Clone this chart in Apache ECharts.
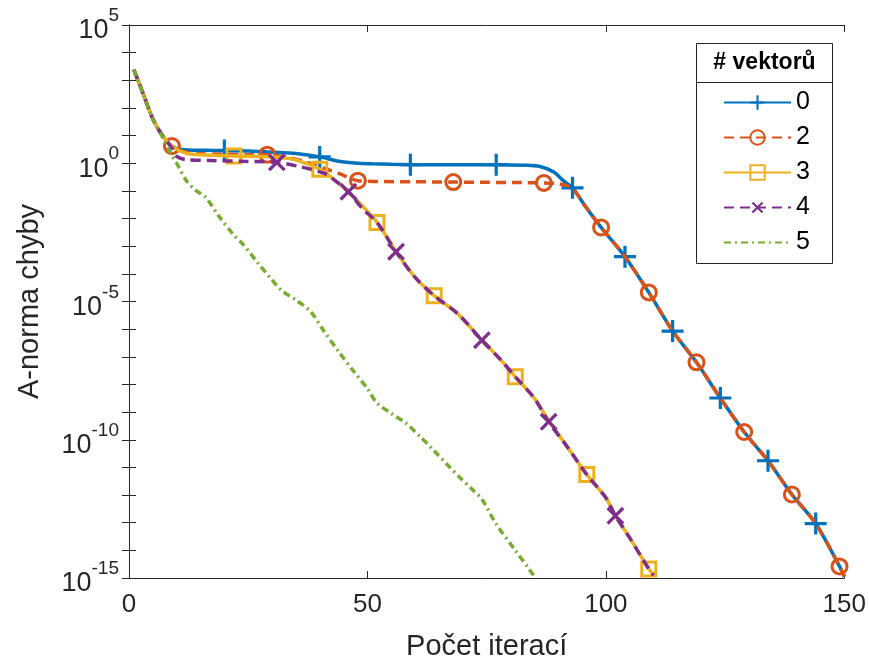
<!DOCTYPE html>
<html>
<head>
<meta charset="utf-8">
<script src="https://cdn.jsdelivr.net/npm/echarts@6/dist/echarts.min.js"></script>
<style>
html,body{margin:0;padding:0;background:#fff;}
#chart{width:869px;height:666px;}
</style>
</head>
<body>
<div id="chart"></div>
<script>
// ---- data (x = iteration, values = log10 of the A-norm of the error) ----
const seriesNames = ['0', '2', '3', '4', '5'];
const xTicks = [0, 50, 100, 150];

const x0 = [1,3,5,7,9,11,16,20,25,30,35,40,44,48,51,55,59,65,70,77,83,86,89,91,93,96,99,104,109,114,119,124,129,134,139,144,149,150];
const log0 = [3.39,2.5,1.6,1.0,0.62,0.5,0.47,0.46,0.44,0.40,0.35,0.23,0.07,0.0,-0.02,-0.04,-0.05,-0.05,-0.05,-0.05,-0.07,-0.11,-0.31,-0.62,-0.89,-1.63,-2.32,-3.38,-4.67,-6.07,-7.2,-8.49,-9.72,-10.76,-11.98,-13.03,-14.58,-14.95];
const mark0 = [20,40,59,77,93,104,114,124,134,144];

const x2 = [1,3,5,7,9,12,15,20,25,29,33,37,41,44,48,52,60,68,75,82,87,90,92,93,96,99,104,109,114,119,124,129,134,139,144,149,150];
const log2 = [3.39,2.5,1.6,1.0,0.62,0.40,0.34,0.32,0.31,0.31,0.22,0.05,-0.19,-0.37,-0.63,-0.66,-0.67,-0.68,-0.69,-0.70,-0.71,-0.74,-0.82,-0.89,-1.63,-2.32,-3.38,-4.67,-6.07,-7.2,-8.49,-9.72,-10.76,-11.98,-13.03,-14.58,-14.95];
const mark2 = [9,29,48,68,87,99,109,119,129,139,149];

const x3 = [1,3,5,7,9,12,16,22,30,34,37,40,44,47,52,56,60,64,69,74,78,81,85,88,92,96,100,102,105,109,110];
const log3 = [3.39,2.5,1.6,1.0,0.62,0.36,0.30,0.26,0.23,0.16,0.0,-0.22,-0.73,-1.2,-2.14,-3.2,-4.13,-4.79,-5.45,-6.4,-7.12,-7.72,-8.5,-9.3,-10.28,-11.26,-12.1,-12.75,-13.55,-14.67,-14.9];
const mark3 = [22,40,52,64,81,96,109];

const x4 = [1,3,5,7,9,10,12,17,24,31,36,41,43,46,49,52,56,60,64,69,74,78,81,85,88,92,96,100,102,105,109,110];
const log4 = [3.39,2.5,1.6,1.0,0.55,0.25,0.13,0.10,0.07,0.03,-0.13,-0.37,-0.6,-1.03,-1.65,-2.14,-3.2,-4.13,-4.79,-5.45,-6.4,-7.12,-7.72,-8.5,-9.35,-10.28,-11.26,-12.1,-12.75,-13.55,-14.67,-14.9];
const mark4 = [31,46,56,74,88,102];

const x5 = [1,3,5,7,9,10,12,14,16,19,22,24,27,30,32,35,38,41,44,47,50,52,55,58,61,64,67,69,72,74,77,81,84,85];
const log5 = [3.39,2.5,1.6,0.95,0.28,0.0,-0.62,-0.98,-1.22,-1.95,-2.6,-2.95,-3.6,-4.22,-4.6,-4.95,-5.35,-6.1,-6.82,-7.5,-8.15,-8.67,-9.05,-9.39,-9.88,-10.4,-10.95,-11.3,-11.8,-12.15,-13.05,-14.0,-14.7,-14.95];
const mark5 = [];

// ---- styling ----
const colors = ['#0072BD', '#D95319', '#EDB120', '#7E2F8E', '#77AC30'];
const axisColor = '#262626';
const FONT = '"Liberation Sans", Arial, Helvetica, sans-serif';
const plusPath = 'path://M-1.6,-11L1.6,-11L1.6,-1.6L11,-1.6L11,1.6L1.6,1.6L1.6,11L-1.6,11L-1.6,1.6L-11,1.6L-11,-1.6L-1.6,-1.6Z';
const crossPath = 'path://M-1.8,-12L1.8,-12L1.8,-1.8L12,-1.8L12,1.8L1.8,1.8L1.8,12L-1.8,12L-1.8,1.8L-12,1.8L-12,-1.8L-1.8,-1.8Z';

function build(xs, logs, marks) {
  return xs.map((x, i) => {
    const item = { value: [x, Math.pow(10, logs[i])] };
    if (marks.indexOf(x) < 0) item.symbol = 'none';
    return item;
  });
}

const chart = echarts.init(document.getElementById('chart'), null, { renderer: 'canvas' });

const yAxisBase = {
  type: 'log',
  logBase: 10,
  min: 1e-15,
  max: 1e5,
  interval: 1,
  axisLine: { show: true, lineStyle: { color: axisColor, width: 1 } },
  axisTick: { show: true, inside: true, length: 7, lineStyle: { color: axisColor } },
  splitLine: { show: false },
  minorTick: { show: false }
};
const xAxisBase = {
  type: 'value',
  min: 0,
  max: 150,
  interval: 50,
  axisLine: { show: true, onZero: false, lineStyle: { color: axisColor, width: 1 } },
  axisTick: { show: true, inside: true, length: 7, lineStyle: { color: axisColor } },
  splitLine: { show: false }
};

const option = {
  animation: false,
  backgroundColor: '#fff',
  textStyle: { fontFamily: FONT },
  grid: { left: 129, right: 21, top: 25, bottom: 83, containLabel: false },
  xAxis: [
    Object.assign({}, xAxisBase, {
      position: 'bottom',
      name: 'Počet iterací',
      nameLocation: 'middle',
      nameGap: 54,
      nameTextStyle: { fontSize: 29, color: axisColor, fontFamily: FONT },
      axisLabel: { show: true, margin: 14, fontSize: 26, color: axisColor, fontFamily: FONT,
        formatter: v => (xTicks.indexOf(v) >= 0 ? String(v) : '') }
    }),
    Object.assign({}, xAxisBase, { position: 'top', axisLabel: { show: false } })
  ],
  yAxis: [
    Object.assign({}, yAxisBase, {
      position: 'left',
      name: 'A-norma chyby',
      nameLocation: 'middle',
      nameGap: 85,
      nameTextStyle: { fontSize: 29, color: axisColor, fontFamily: FONT },
      axisLabel: {
        show: true, margin: 10, color: axisColor, fontFamily: FONT,
        padding: [12, 0, 0, 0],
        formatter: function (v) {
          const e = Math.round(Math.log10(v));
          if (e % 5 !== 0) return '';
          return '{b|10}{s|' + e + '}';
        },
        rich: {
          b: { fontSize: 27, fontFamily: FONT, color: axisColor },
          s: { fontSize: 19, fontFamily: FONT, color: axisColor, padding: [0, 0, 30, 0] }
        }
      }
    }),
    Object.assign({}, yAxisBase, { position: 'right', axisLabel: { show: false } })
  ],
  legend: {
    show: true,
    orient: 'vertical',
    left: 723,
    top: 90,
    padding: 0,
    itemWidth: 67,
    itemHeight: 18,
    itemGap: 10,
    textStyle: { fontSize: 25, color: '#000', fontFamily: FONT },
    data: seriesNames
  },
  graphic: [
    { type: 'rect', shape: { x: 696.5, y: 43.5, width: 136, height: 220 },
      style: { fill: '#fff', stroke: axisColor, lineWidth: 1 }, z: -1, silent: true },
    { type: 'line', shape: { x1: 696.5, y1: 82.5, x2: 832.5, y2: 82.5 },
      style: { stroke: axisColor, lineWidth: 1 }, silent: true },
    { type: 'text', x: 764.5, y: 63, style: { text: '# vektorů', fontSize: 23, fontWeight: 'bold',
      fontFamily: FONT, fill: '#000', align: 'center', verticalAlign: 'middle' }, silent: true }
  ],
  series: [
    {
      name: seriesNames[0], type: 'line', data: build(x0, log0, mark0),
      smooth: 0.3, symbol: plusPath, symbolSize: 22,
      lineStyle: { color: colors[0], width: 3.5, type: 'solid' },
      itemStyle: { color: colors[0], borderWidth: 0 },
      z: 2
    },
    {
      name: seriesNames[1], type: 'line', data: build(x2, log2, mark2),
      smooth: 0.3, symbol: 'circle', symbolSize: 15,
      lineStyle: { color: colors[1], width: 3.5, type: [10, 6] },
      itemStyle: { color: 'rgba(0,0,0,0)', borderColor: colors[1], borderWidth: 3 },
      z: 3
    },
    {
      name: seriesNames[2], type: 'line', data: build(x3, log3, mark3),
      smooth: 0.3, symbol: 'rect', symbolSize: 14,
      lineStyle: { color: colors[2], width: 3.5, type: 'solid' },
      itemStyle: { color: 'rgba(0,0,0,0)', borderColor: colors[2], borderWidth: 3 },
      z: 4
    },
    {
      name: seriesNames[3], type: 'line', data: build(x4, log4, mark4),
      smooth: 0.3, symbol: crossPath, symbolSize: 22, symbolRotate: 45,
      lineStyle: { color: colors[3], width: 3.5, type: [10, 6] },
      itemStyle: { color: colors[3], borderWidth: 0 },
      z: 5
    },
    {
      name: seriesNames[4], type: 'line', data: build(x5, log5, mark5),
      smooth: 0.3, symbol: 'circle', symbolSize: 0,
      lineStyle: { color: colors[4], width: 3.5, type: [7, 4, 2, 4] },
      itemStyle: { color: 'rgba(0,0,0,0)', borderWidth: 0 },
      z: 6
    }
  ]
};
chart.setOption(option);
</script>
</body>
</html>
